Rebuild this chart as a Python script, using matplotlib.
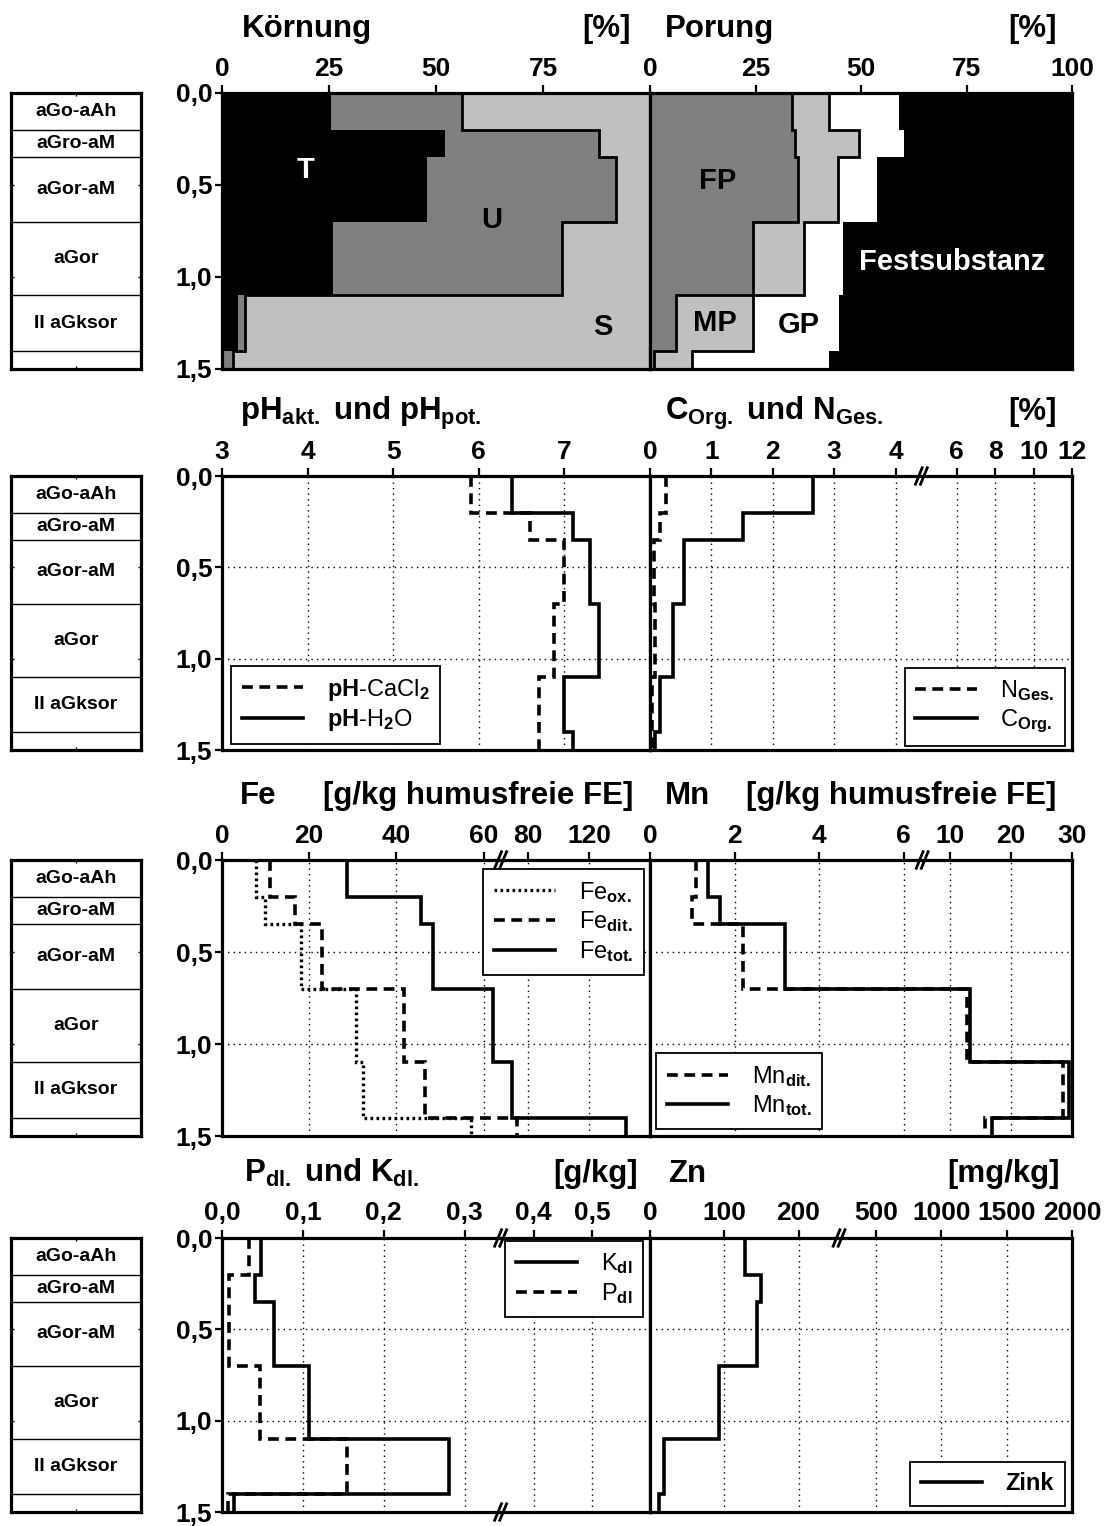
import matplotlib
matplotlib.use("Agg")
import matplotlib.pyplot as plt
import numpy as np

plt.rcParams['font.family'] = ['Liberation Sans', 'DejaVu Sans']
plt.rcParams['font.weight'] = 'bold'
plt.rcParams['mathtext.fontset'] = 'custom'
plt.rcParams['mathtext.rm'] = 'Liberation Sans'
plt.rcParams['mathtext.bf'] = 'Liberation Sans:bold'
plt.rcParams['mathtext.it'] = 'Liberation Sans:italic'

# ---------------- data ----------------
depth = [0, 0.2, 0.35, 0.7, 1.1, 1.4, 1.5]   # horizon limits [m]
horizons = ['aGo-aAh', 'aGro-aM', 'aGor-aM', 'aGor', 'II aGksor', '']

# Koernung [%]
ton = [25.5, 52, 48, 26, 3.7, 0.5]
schluff = [30.5, 36, 44, 53.5, 1.6, 2.0]
sand = [44, 12, 8, 20.5, 94.7, 97.5]

# Porung [%]
fp = [33.6, 34.3, 35.1, 24.3, 6.1, 0.9]
mp = [8.9, 15.3, 9.4, 12.3, 18.4, 9.1]
gp = [16.5, 10.6, 9.3, 9.1, 20.4, 32.5]

# pH
ph_cacl2 = [5.91, 6.6, 7.0, 6.88, 6.7, 6.7]
ph_h2o = [6.39, 7.1, 7.3, 7.4, 7.0, 7.1]

# C org, N ges [%]
c_org = [2.65, 1.51, 0.56, 0.38, 0.16, 0.08]
n_ges = [0.26, 0.17, 0.07, 0.08, 0.04, 0.03]

# Fe [g/kg]
fe_ox = [7.7, 9.9, 18.2, 30.8, 32.3, 57.1]
fe_dit = [10.9, 16.7, 22.9, 41.8, 46.6, 74.9]
fe_tot = [28.7, 45.7, 48.3, 64.2, 72.8, 144.1]

# Mn [g/kg]
mn_dit = [1.08, 1.0, 2.2, 12.7, 28.5, 15.7]
mn_tot = [1.37, 1.65, 3.18, 13.2, 29.5, 16.9]

# P, K [g/kg]
k_dl = [0.048, 0.041, 0.064, 0.107, 0.281, 0.015]
p_dl = [0.034, 0.009, 0.009, 0.047, 0.154, 0.008]

# Zn [mg/kg]
zink = [128.6, 149.6, 143.8, 92.4, 18.8, 12.0]

# ---------------- helpers ----------------
W, H = 1107, 1526
fig = plt.figure(figsize=(W / 100, H / 100), dpi=100)


def box(x0, x1, y0, y1):
    return [x0 / W, 1 - y1 / H, (x1 - x0) / W, (y1 - y0) / H]


def broken(dk, pk):
    # piecewise linear axis (broken axis)
    dk = np.asarray(dk, float)
    pk = np.asarray(pk, float)

    def lin(v, a, b):
        v = np.asarray(v, float)
        out = np.interp(v, a, b)
        s0 = (b[1] - b[0]) / (a[1] - a[0])
        s1 = (b[-1] - b[-2]) / (a[-1] - a[-2])
        out = np.where(v < a[0], b[0] + (v - a[0]) * s0, out)
        out = np.where(v > a[-1], b[-1] + (v - a[-1]) * s1, out)
        return out
    return (lambda v: lin(v, dk, pk)), (lambda v: lin(v, pk, dk))


def style(ax, ticks, labels, lim, left=False, grid=True):
    ax.set_ylim(1.5, 0)
    ax.set_xlim(*lim)
    ax.xaxis.tick_top()
    ax.set_xticks(ticks, labels)
    ax.tick_params(axis='x', direction='out', length=6, width=1.6, labelsize=19, pad=3)
    if left:
        ax.set_yticks([0, 0.5, 1.0, 1.5], ['0,0', '0,5', '1,0', '1,5'])
        ax.tick_params(axis='y', direction='out', length=5, width=1.6, labelsize=19, pad=2)
    else:
        ax.set_yticks([0, 0.5, 1.0, 1.5])
        ax.tick_params(axis='y', length=0, labelleft=False)
    for s in ax.spines.values():
        s.set_linewidth(2.3)
    if grid:
        ax.set_axisbelow(True)
        ax.grid(True, color='k', linestyle=(0, (1, 3)), linewidth=1)


def brk(ax, xf, y=1.0):
    for dx in (-0.006, 0.006):
        ax.plot([xf + dx - 0.008, xf + dx + 0.008], [y - 0.03, y + 0.03],
                transform=ax.transAxes, color='k', lw=2, clip_on=False, zorder=6)


def horizon_box(top, bot):
    hz = fig.add_axes(box(11, 141, top, bot))
    hz.set_xlim(0, 1)
    hz.set_ylim(1.5, 0)
    for b in depth[1:-1]:
        hz.axhline(b, color='k', lw=1)
    for i, name in enumerate(horizons):
        hz.text(0.5, (depth[i] + depth[i + 1]) / 2, name, ha='center', va='center', fontsize=14)
    hz.set_xticks([0, 0.5, 1])
    hz.set_yticks([0, 0.5, 1, 1.5])
    hz.tick_params(direction='in', length=2, width=1, labelleft=False, labelbottom=False,
                   top=True, right=True)
    for s in hz.spines.values():
        s.set_linewidth(2.3)


def title(x, y, s, ha='left'):
    fig.text(x / W, 1 - y / H, s, fontsize=22.5, ha=ha, va='baseline')


def legend(ax, loc, anchor, **kw):
    lg = ax.legend(loc=loc, bbox_to_anchor=anchor, borderaxespad=0, fancybox=False,
                   edgecolor='k', framealpha=1, prop={'weight': 'normal', 'size': 17},
                   handlelength=2.6, handletextpad=1.0, labelspacing=0.2, borderpad=0.45, **kw)
    lg.get_frame().set_linewidth(1.3)
    return lg


rows = [(93, 369), (476, 750), (860, 1136), (1238, 1512)]
ls_dash = (0, (3, 1.8))
lw = 2.6

# ---------------- row 1: Koernung / Porung ----------------
top, bot = rows[0]
horizon_box(top, bot)
a1 = fig.add_axes(box(222, 650, top, bot))
t_edge = np.array(ton)
u_edge = t_edge + np.array(schluff)
s_edge = u_edge + np.array(sand)
a1.stairs(t_edge, depth, baseline=0, fill=True, orientation='horizontal', color='black', lw=0)
a1.stairs(u_edge, depth, baseline=t_edge, fill=True, orientation='horizontal', color='#808080', lw=0)
a1.stairs(s_edge, depth, baseline=u_edge, fill=True, orientation='horizontal', color='#c0c0c0', lw=0)
a1.stairs(u_edge, depth, baseline=None, orientation='horizontal', color='k', lw=2)
a1.text(19.5, 0.42, 'T', color='white', fontsize=21, ha='center', va='center')
a1.text(63, 0.69, 'U', color='black', fontsize=21, ha='center', va='center')
a1.text(89, 1.27, 'S', color='black', fontsize=21, ha='center', va='center')
style(a1, [0, 25, 50, 75], ['0', '25', '50', '75'], (0, 100), left=True, grid=False)

a2 = fig.add_axes(box(650, 1072, top, bot))
fp_e = np.array(fp)
mp_e = fp_e + np.array(mp)
gp_e = mp_e + np.array(gp)
a2.stairs(fp_e, depth, baseline=0, fill=True, orientation='horizontal', color='#808080', lw=0)
a2.stairs(mp_e, depth, baseline=fp_e, fill=True, orientation='horizontal', color='#c0c0c0', lw=0)
a2.stairs(gp_e, depth, baseline=mp_e, fill=True, orientation='horizontal', color='white', lw=0)
a2.stairs(np.full(6, 100.0), depth, baseline=gp_e, fill=True, orientation='horizontal', color='black', lw=0)
a2.stairs(fp_e, depth, baseline=None, orientation='horizontal', color='k', lw=2)
a2.stairs(mp_e, depth, baseline=None, orientation='horizontal', color='k', lw=2)
a2.text(16, 0.48, 'FP', fontsize=21, ha='center', va='center')
a2.text(15.3, 1.25, 'MP', fontsize=21, ha='center', va='center')
a2.text(35.3, 1.26, 'GP', fontsize=21, ha='center', va='center')
a2.text(71.5, 0.92, 'Festsubstanz', color='white', fontsize=21, ha='center', va='center')
style(a2, [0, 25, 50, 75, 100], ['0', '25', '50', '75', '100'], (0, 100), grid=False)

title(242, top - 56, 'Körnung')
title(631, top - 56, '[%]', ha='right')
title(665, top - 56, 'Porung')
title(1057, top - 56, '[%]', ha='right')

# ---------------- row 2: pH / C, N ----------------
top, bot = rows[1]
horizon_box(top, bot)
b1 = fig.add_axes(box(222, 650, top, bot))
b1.stairs(ph_cacl2, depth, baseline=None, orientation='horizontal', color='k', lw=lw,
          linestyle=ls_dash, label=r'$\mathbf{pH}$-CaCl$_2$')
b1.stairs(ph_h2o, depth, baseline=None, orientation='horizontal', color='k', lw=lw,
          label=r'$\mathbf{pH}$-H$_2$O')
style(b1, [3, 4, 5, 6, 7], ['3', '4', '5', '6', '7'], (3, 8), left=True)
legend(b1, 'lower left', (0.021, 0.022))

b2 = fig.add_axes(box(650, 1072, top, bot))
fw, iv = broken([0, 4, 6, 12], [0, 0.582, 0.727, 1.0])
b2.set_xscale('function', functions=(fw, iv))
b2.stairs(n_ges, depth, baseline=None, orientation='horizontal', color='k', lw=lw,
          linestyle=ls_dash, label=r'N$_{\mathrm{Ges.}}$')
b2.stairs(c_org, depth, baseline=None, orientation='horizontal', color='k', lw=lw,
          label=r'C$_{\mathrm{Org.}}$')
style(b2, [0, 1, 2, 3, 4, 6, 8, 10, 12], ['0', '1', '2', '3', '4', '6', '8', '10', '12'], (0, 12))
legend(b2, 'lower right', (0.983, 0.015))
brk(b2, 0.643)

title(240, top - 56, r'pH$_{\mathbf{akt.}}$ und pH$_{\mathbf{pot.}}$')
title(665, top - 56, r'C$_{\mathbf{Org.}}$ und N$_{\mathbf{Ges.}}$')
title(1057, top - 56, '[%]', ha='right')

# ---------------- row 3: Fe / Mn ----------------
top, bot = rows[2]
horizon_box(top, bot)
c1 = fig.add_axes(box(222, 650, top, bot))
fw, iv = broken([0, 60, 80, 160], [0, 0.6115, 0.7156, 1.0])
c1.set_xscale('function', functions=(fw, iv))
c1.stairs(fe_ox, depth, baseline=None, orientation='horizontal', color='k', lw=2.4,
          linestyle=(0, (0.8, 1.0)), label=r'Fe$_{\mathrm{ox.}}$')
c1.stairs(fe_dit, depth, baseline=None, orientation='horizontal', color='k', lw=lw,
          linestyle=ls_dash, label=r'Fe$_{\mathrm{dit.}}$')
c1.stairs(fe_tot, depth, baseline=None, orientation='horizontal', color='k', lw=lw,
          label=r'Fe$_{\mathrm{tot.}}$')
style(c1, [0, 20, 40, 60, 80, 120], ['0', '20', '40', '60', '80', '120'], (0, 160), left=True)
legend(c1, 'upper right', (0.986, 0.967))
brk(c1, 0.651)

c2 = fig.add_axes(box(650, 1072, top, bot))
fw, iv = broken([0, 6, 10, 30], [0, 0.6014, 0.7115, 1.0])
c2.set_xscale('function', functions=(fw, iv))
c2.stairs(mn_dit, depth, baseline=None, orientation='horizontal', color='k', lw=lw,
          linestyle=ls_dash, label=r'Mn$_{\mathrm{dit.}}$')
c2.stairs(mn_tot, depth, baseline=None, orientation='horizontal', color='k', lw=lw,
          label=r'Mn$_{\mathrm{tot.}}$')
style(c2, [0, 2, 4, 6, 10, 20, 30], ['0', '2', '4', '6', '10', '20', '30'], (0, 30))
legend(c2, 'lower left', (0.014, 0.025))
brk(c2, 0.645)

title(240, top - 56, 'Fe')
title(633, top - 56, '[g/kg humusfreie FE]', ha='right')
title(665, top - 56, 'Mn')
title(1056, top - 56, '[g/kg humusfreie FE]', ha='right')

# ---------------- row 4: P, K / Zn ----------------
top, bot = rows[3]
horizon_box(top, bot)
d1 = fig.add_axes(box(222, 650, top, bot))
fw, iv = broken([0, 0.3, 0.4, 0.6], [0, 0.5669, 0.7284, 1.0])
d1.set_xscale('function', functions=(fw, iv))
d1.stairs(k_dl, depth, baseline=None, orientation='horizontal', color='k', lw=lw,
          label=r'K$_{\mathrm{dl}}$')
d1.stairs(p_dl, depth, baseline=None, orientation='horizontal', color='k', lw=lw,
          linestyle=ls_dash, label=r'P$_{\mathrm{dl}}$')
style(d1, [0, 0.1, 0.2, 0.3, 0.4, 0.5], ['0,0', '0,1', '0,2', '0,3', '0,4', '0,5'], (0, 0.6), left=True)
legend(d1, 'upper right', (0.984, 0.99))
brk(d1, 0.651)
brk(d1, 0.651, y=0.0)

d2 = fig.add_axes(box(650, 1072, top, bot))
fw, iv = broken([0, 200, 500, 2000], [0, 0.3519, 0.5357, 1.0])
d2.set_xscale('function', functions=(fw, iv))
d2.stairs(zink, depth, baseline=None, orientation='horizontal', color='k', lw=lw, label='Zink')
style(d2, [0, 100, 200, 500, 1000, 1500, 2000],
      ['0', '100', '200', '500', '1000', '1500', '2000'], (0, 2000))
lg = legend(d2, 'lower right', (0.983, 0.022))
for t in lg.get_texts():
    t.set_fontweight('bold')
brk(d2, 0.448)

title(244, top - 56, r'P$_{\mathbf{dl.}}$ und K$_{\mathbf{dl.}}$')
title(638, top - 56, '[g/kg]', ha='right')
title(668, top - 56, 'Zn')
title(1060, top - 56, '[mg/kg]', ha='right')

fig.savefig('out.png', dpi=100)
